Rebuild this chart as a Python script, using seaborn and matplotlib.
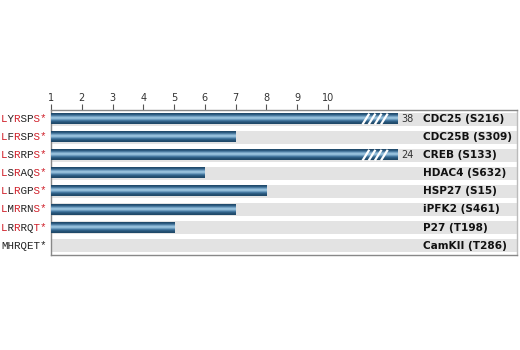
import numpy as np
import pandas as pd
import matplotlib
matplotlib.use("Agg")
import matplotlib.pyplot as plt
import seaborn as sns

# ---- data ----
sequences = ["LYRSPS*", "LFRSPS*", "LSRRPS*", "LSRAQS*", "LLRGPS*", "LMRRNS*", "LRRRQT*", "MHRQET*"]
red_masks = ["1010011", "1010011", "1010011", "1010011", "1010011", "1010011", "1010011", "0000000"]
proteins = ["CDC25 (S216)", "CDC25B (S309)", "CREB (S133)", "HDAC4 (S632)",
            "HSP27 (S15)", "iPFK2 (S461)", "P27 (T198)", "CamKII (T286)"]
values = [38, 7, 24, 6, 8, 7, 5, 1]
tick_values = [1, 2, 3, 4, 5, 6, 7, 8, 9, 10]

# layout constants
x_min = 1.0
cap = 12.27          # where broken bars are truncated
x_max = 16.14
label_x = 13.09

df = pd.DataFrame({"protein": proteins, "value": values})
df["shown"] = np.minimum(df["value"], cap)

sns.set_theme(style="white")
plt.rcParams["font.family"] = ["DejaVu Sans"]

fig = plt.figure(figsize=(5.2, 3.5), dpi=100)
ax = fig.add_axes([51 / 520, 1 - 255 / 350, (517 - 51) / 520, 145 / 350])

sns.barplot(data=df, x="shown", y="protein", orient="h", width=0.56,
            color="#3b6a8f", ax=ax, zorder=3, edgecolor="none")
bar_patches = list(ax.patches)

n = len(proteins)
for i in range(n):
    ax.axhspan(i - 0.36, i + 0.36, color="#e3e3e3", zorder=1, lw=0)

# gradient on bars
grad = np.array([0.0, 0.35, 0.75, 1.0, 0.8, 0.45, 0.15, 0.0])
cmap = matplotlib.colors.LinearSegmentedColormap.from_list(
    "b", ["#1f4868", "#3e74a0", "#a9d0e8"])
for p in bar_patches:
    x0, y0 = p.get_x(), p.get_y()
    w, h = p.get_width(), p.get_height()
    x1 = x0 + w
    x0c = max(x0, x_min)
    if x1 - x0c <= 0.01:
        p.set_visible(False)
        continue
    im = ax.imshow(grad.reshape(-1, 1), cmap=cmap, aspect="auto",
                   extent=[x0c, x1, y0 + h, y0], zorder=4, interpolation="bicubic")

# break marks and truncated values
for i, v in enumerate(values):
    if v > cap:
        for k in range(4):
            xs = cap - 1.15 + k * 0.2
            ax.plot([xs, xs + 0.22], [i + 0.3, i - 0.3], color="white", lw=1.6,
                    zorder=5, solid_capstyle="butt")
        ax.text(cap + 0.1, i, str(v), ha="left", va="center", fontsize=7,
                color="#333333", zorder=6)

for i, name in enumerate(proteins):
    ax.text(label_x, i, name, ha="left", va="center", fontsize=7.6, fontweight="bold",
            color="#111111", zorder=6)

# sequence labels, coloured per character (monospace overlay)
trans = ax.get_yaxis_transform()
for i, (seq, mask) in enumerate(zip(sequences, red_masks)):
    red = "".join(c if m == "1" else " " for c, m in zip(seq, mask))
    blk = "".join(c if m == "0" else " " for c, m in zip(seq, mask))
    for s, col in ((red, "#d0202a"), (blk, "#222222")):
        ax.text(-0.107, i, s, transform=trans, ha="left", va="center", zorder=7,
                fontsize=7.8, family=["Liberation Mono", "DejaVu Sans Mono"], color=col)

ax.set_xlim(x_min, x_max)
ax.set_ylim(n - 0.5 + 0.02, -0.5)
ax.set_xticks(tick_values)
ax.set_xticklabels([str(t) for t in tick_values])
ax.xaxis.tick_top()
ax.tick_params(axis="x", top=True, bottom=False, length=4, width=0.8, color="#555555",
               labelsize=7, labelcolor="#333333", pad=1, direction="out")
ax.set_yticks([])
ax.set_xlabel("")
ax.set_ylabel("")
for side, sp in ax.spines.items():
    sp.set_visible(True)
    sp.set_linewidth(1.0)
    sp.set_color("#888888")
ax.spines["right"].set_color("#bbbbbb")

fig.savefig("out.png", dpi=100)
